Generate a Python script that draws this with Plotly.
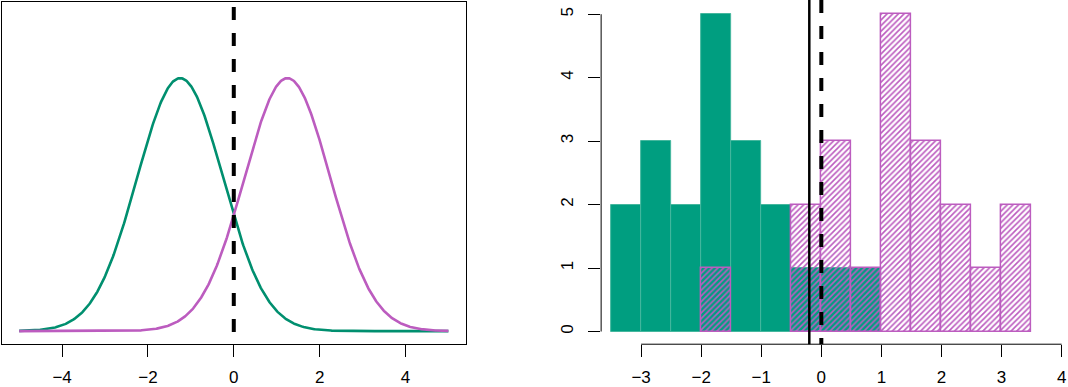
import numpy as np
import plotly.graph_objects as go

# ---- data ----
class_means = [-1.25, 1.25]
class_sd = 1.0
curve_x_range = [-5, 5]
left_xticks = [-4, -2, 0, 2, 4]

bin_left_edges = [-3.5, -3.0, -2.5, -2.0, -1.5, -1.0, -0.5, 0.0, 0.5, 1.0, 1.5, 2.0, 2.5, 3.0]
bin_width = 0.5
green_counts = [2, 3, 2, 5, 3, 2, 1, 1, 1, 0, 0, 0, 0, 0]
purple_counts = [0, 0, 0, 1, 0, 0, 2, 3, 1, 5, 3, 2, 1, 2]
right_xticks = [-3, -2, -1, 0, 1, 2, 3, 4]
right_yticks = [0, 1, 2, 3, 4, 5]
lda_boundary = -0.2
bayes_boundary = 0.0

GREEN_FILL = "#009E80"
GREEN_EDGE = "#45B79E"
GREEN_LINE = "#008F6F"
PURPLE = "#BC5CBF"
FONT = "Liberation Sans, Arial, sans-serif"

W, H = 1068, 387
def px_x(p):
    return p / W
def px_y(p):
    return 1 - p / H

fig = go.Figure()

# left panel: class densities
xs = np.linspace(curve_x_range[0], curve_x_range[1], 600)
colors = [GREEN_LINE, PURPLE]
for m, c in zip(class_means, colors):
    dens = np.exp(-0.5 * ((xs - m) / class_sd) ** 2) / (class_sd * np.sqrt(2 * np.pi))
    fig.add_trace(go.Scatter(x=xs, y=dens, mode="lines", line=dict(color=c, width=2.6),
                             xaxis="x", yaxis="y", showlegend=False, hoverinfo="skip"))

# right panel: histograms
centers = [e + bin_width / 2 for e in bin_left_edges]
gx = [c for c, v in zip(centers, green_counts) if v > 0]
gy = [v for v in green_counts if v > 0]
px_ = [c for c, v in zip(centers, purple_counts) if v > 0]
py_ = [v for v in purple_counts if v > 0]
fig.add_trace(go.Bar(x=gx, y=gy, width=bin_width, xaxis="x2", yaxis="y2",
                     marker=dict(color=GREEN_FILL, line=dict(color=GREEN_EDGE, width=1)),
                     showlegend=False, hoverinfo="skip"))
fig.add_trace(go.Bar(x=px_, y=py_, width=bin_width, xaxis="x2", yaxis="y2",
                     marker=dict(color=PURPLE, line=dict(color=PURPLE, width=1.5),
                                 pattern=dict(shape="/", fillmode="replace", fgcolor=PURPLE,
                                              bgcolor="rgba(0,0,0,0)", size=4, solidity=0.4)),
                     showlegend=False, hoverinfo="skip"))

shapes = [
    # left dashed Bayes boundary
    dict(type="line", xref="x", yref="y domain", x0=bayes_boundary, x1=bayes_boundary, y0=0.985, y1=0,
         line=dict(color="black", width=4, dash="13px,13px")),
    # right solid LDA boundary
    dict(type="line", xref="x2", yref="y2 domain", x0=lda_boundary, x1=lda_boundary, y0=1, y1=0,
         line=dict(color="black", width=2.5)),
    # right dashed Bayes boundary
    dict(type="line", xref="x2", yref="y2 domain", x0=bayes_boundary, x1=bayes_boundary, y0=1, y1=0,
         line=dict(color="black", width=4, dash="13px,13px")),
    # right axis lines (tick range only)
    dict(type="line", xref="x2", yref="y2 domain", x0=right_xticks[0], x1=right_xticks[-1], y0=0, y1=0,
         line=dict(color="black", width=1)),
    dict(type="line", xref="x2 domain", yref="y2", x0=0, x1=0, y0=right_yticks[0], y1=right_yticks[-1],
         line=dict(color="black", width=1)),
]

tickfont = dict(family=FONT, size=17, color="black")
fig.update_layout(
    width=W, height=H, margin=dict(l=0, r=0, t=0, b=0),
    paper_bgcolor="white", plot_bgcolor="white",
    barmode="overlay", bargap=0,
    shapes=shapes,
    xaxis=dict(domain=[px_x(2), px_x(466)], range=[-5.4, 5.4], tickvals=left_xticks,
               ticks="outside", ticklen=12, tickwidth=1, tickcolor="black",
               showline=True, linecolor="black", linewidth=1, mirror=True,
               showgrid=False, zeroline=False, tickfont=tickfont, ticklabelstandoff=5),
    yaxis=dict(domain=[px_y(346), px_y(2)], range=[-0.0207, 0.519], showticklabels=False,
               ticks="", showline=True, linecolor="black", linewidth=1, mirror=True,
               showgrid=False, zeroline=False),
    xaxis2=dict(domain=[px_x(601.7), px_x(1066)], range=[-3.665, 4.056], tickvals=right_xticks,
                ticks="outside", ticklen=12, tickwidth=1, tickcolor="black",
                showline=False, showgrid=False, zeroline=False, anchor="y2",
                tickfont=tickfont, ticklabelstandoff=5),
    yaxis2=dict(domain=[px_y(346), 1.0], range=[-0.2, 5.224], tickvals=right_yticks,
                ticks="outside", ticklen=12, tickwidth=1, tickcolor="black",
                showline=False, showgrid=False, zeroline=False, anchor="x2",
                tickangle=-90, tickfont=tickfont, ticklabelstandoff=8),
)

fig.write_html("out.html", config={"displayModeBar": False},
               post_script="document.body.style.margin='0';document.body.style.overflow='hidden';")
